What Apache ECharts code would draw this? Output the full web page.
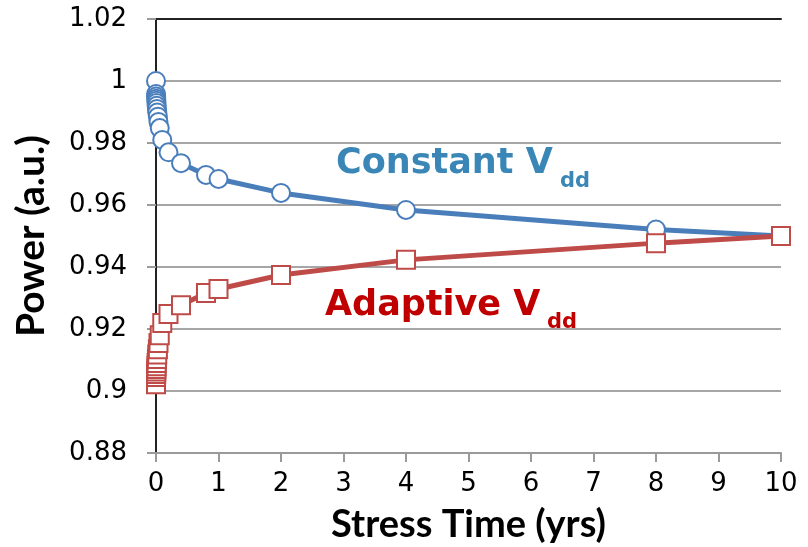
<!DOCTYPE html>
<html>
<head>
<meta charset="utf-8">
<script src="https://cdn.jsdelivr.net/npm/echarts@6/dist/echarts.min.js"></script>
<style>
  html, body { margin: 0; padding: 0; background: #fff; }
  #chart { width: 808px; height: 547px; }
</style>
</head>
<body>
<div id="chart"></div>
<script>
// Stress time (years)
const stressTime = [0, 0.001, 0.002, 0.004, 0.006, 0.008, 0.01, 0.015, 0.02, 0.03, 0.04, 0.06, 0.1, 0.2, 0.4, 0.8, 1, 2, 4, 8, 10];
// Normalised power under constant supply voltage
const constantVdd = [1.000, 0.9958, 0.9950, 0.9943, 0.9936, 0.9929, 0.9920, 0.9910, 0.9898, 0.9885, 0.9868, 0.9848, 0.9810, 0.9770, 0.9735, 0.9697, 0.9684, 0.9639, 0.9584, 0.9521, 0.9500];
// Normalised power under adaptive supply voltage
const adaptiveVdd = [0.9022, 0.9045, 0.9055, 0.9063, 0.9071, 0.9080, 0.9090, 0.9103, 0.9118, 0.9135, 0.9155, 0.9180, 0.9219, 0.9248, 0.9277, 0.9316, 0.9329, 0.9374, 0.9423, 0.9477, 0.9500];
const xTicks = [0, 1, 2, 3, 4, 5, 6, 7, 8, 9, 10];
const yTicks = [0.88, 0.90, 0.92, 0.94, 0.96, 0.98, 1.00, 1.02];

const pair = (xs, ys) => xs.map((x, i) => [x, ys[i]]);

const BLUE = '#4A7EBB';
const RED = '#BE4B48';
const tickFont = '"DejaVu Sans", sans-serif';
const titleFont = 'Lato, "Open Sans", sans-serif';
const noteFont = '"DejaVu Sans", sans-serif';

const chart = echarts.init(document.getElementById('chart'));
chart.setOption({
  animation: false,
  grid: { left: 156, top: 19, right: 27, bottom: 94, containLabel: false, outerBoundsMode: 'none' },
  xAxis: [{
    type: 'value',
    min: xTicks[0], max: xTicks[xTicks.length - 1], interval: 1,
    axisLine: { show: true, lineStyle: { color: '#9a9a9a', width: 2 } },
    axisTick: { show: true, inside: false, length: 9, lineStyle: { color: '#9a9a9a', width: 2 } },
    splitLine: { show: false },
    axisLabel: { margin: 18, fontFamily: tickFont, fontSize: 26, color: '#000' },
    name: 'Stress Time (yrs)', nameLocation: 'middle', nameGap: 53,
    nameTextStyle: { fontFamily: titleFont, fontWeight: 'bold', fontSize: 38, color: '#000' }
  }, {
    type: 'value', position: 'top',
    min: xTicks[0], max: xTicks[xTicks.length - 1],
    axisLine: { show: true, lineStyle: { color: '#222', width: 2 } },
    axisTick: { show: false }, axisLabel: { show: false }, splitLine: { show: false }
  }],
  yAxis: [{
    type: 'value',
    min: yTicks[0], max: yTicks[yTicks.length - 1], interval: 0.02,
    axisLine: { show: true, lineStyle: { color: '#9a9a9a', width: 2 } },
    axisTick: { show: true, inside: false, length: 9, lineStyle: { color: '#9a9a9a', width: 2 } },
    splitLine: { show: true, lineStyle: { color: '#a6a6a6', width: 2 } },
    axisLabel: {
      margin: 29, fontFamily: tickFont, fontSize: 26, color: '#000',
      formatter: v => String(parseFloat(v.toFixed(2)))
    },
    name: 'Power (a.u.)', nameLocation: 'middle', nameGap: 105, nameRotate: 90,
    nameTextStyle: { fontFamily: titleFont, fontWeight: 'bold', fontSize: 39, color: '#000' }
  }, {
    type: 'value', position: 'right',
    min: yTicks[0], max: yTicks[yTicks.length - 1],
    axisLine: { show: true, lineStyle: { color: '#222', width: 2 } },
    axisTick: { show: false }, axisLabel: { show: false }, splitLine: { show: false }
  }],
  series: [{
    name: 'Constant Vdd',
    type: 'line',
    data: pair(stressTime, constantVdd),
    symbol: 'circle', symbolSize: 18,
    lineStyle: { color: BLUE, width: 5 },
    itemStyle: { color: '#fff', borderColor: BLUE, borderWidth: 2 },
    z: 3
  }, {
    name: 'Adaptive Vdd',
    type: 'line',
    data: pair(stressTime, adaptiveVdd),
    symbol: 'rect', symbolSize: 18,
    lineStyle: { color: RED, width: 5 },
    itemStyle: { color: '#fff', borderColor: RED, borderWidth: 2 },
    z: 4
  }],
  graphic: [
    { type: 'text', left: 336, top: 146, style: { text: 'Constant V', fontFamily: noteFont, fontWeight: 'bold', fontSize: 35, fill: '#3A87B7' } },
    { type: 'text', left: 560, top: 171, style: { text: 'dd', fontFamily: noteFont, fontWeight: 'bold', fontSize: 21, fill: '#3A87B7' } },
    { type: 'text', left: 325, top: 288, style: { text: 'Adaptive V', fontFamily: noteFont, fontWeight: 'bold', fontSize: 35, fill: '#C00000' } },
    { type: 'text', left: 547, top: 312, style: { text: 'dd', fontFamily: noteFont, fontWeight: 'bold', fontSize: 21, fill: '#C00000' } }
  ]
});
</script>
</body>
</html>
